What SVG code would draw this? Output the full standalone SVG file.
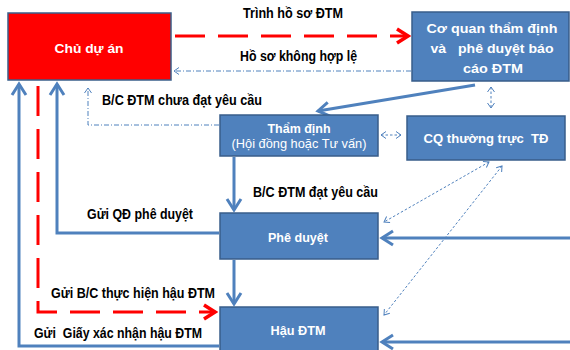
<svg xmlns="http://www.w3.org/2000/svg" width="570" height="350" viewBox="0 0 570 350">
<style>
.box{fill:#4f81bd;stroke:#385d8a;stroke-width:1.5}
.bt{font-family:"Liberation Sans",Arial,sans-serif;font-weight:bold;font-size:13.5px;fill:#fff;text-anchor:middle}
.bn{font-family:"Liberation Sans",Arial,sans-serif;font-size:13px;fill:#fff;text-anchor:middle}
.lb{font-family:"Liberation Sans",Arial,sans-serif;font-weight:bold;font-size:14px;fill:#000}
.thick{fill:none;stroke:#4f81bd;stroke-width:3}
.red{fill:none;stroke:#ff0000;stroke-width:3;stroke-dasharray:30 13}
.dd{fill:none;stroke:#4f81bd;stroke-width:1;stroke-dasharray:5 2 1 2}
.dot{fill:none;stroke:#4f81bd;stroke-width:1;stroke-dasharray:2.5 2}
</style>
<defs>
<marker id="ab" markerUnits="userSpaceOnUse" viewBox="-15 -10 18 20" markerWidth="18" markerHeight="20" refX="0" refY="0" orient="auto"><path d="M-11,-7 L0,0 L-11,7" fill="none" stroke="#4f81bd" stroke-width="3"/></marker>
<marker id="ar" markerUnits="userSpaceOnUse" viewBox="-15 -10 18 20" markerWidth="18" markerHeight="20" refX="0" refY="0" orient="auto"><path d="M-11,-7 L0,0 L-11,7" fill="none" stroke="#ff0000" stroke-width="3.5"/></marker>
<marker id="at" markerUnits="userSpaceOnUse" viewBox="-8 -5 10 10" markerWidth="10" markerHeight="10" refX="0" refY="0" orient="auto-start-reverse"><path d="M-5,-3.5 L0,0 L-5,3.5" fill="none" stroke="#4f81bd" stroke-width="1"/></marker>
</defs>
<rect width="570" height="350" fill="#fff"/>
<g id="connectors">
<path class="red" d="M175,36 L408,36" marker-end="url(#ar)"/>
<path class="dd" d="M411,71 L174,71" marker-end="url(#at)"/>
<path class="thick" d="M475,85 L318,111" marker-end="url(#ab)"/>
<path class="dot" d="M491,87 L491,108" marker-start="url(#at)" marker-end="url(#at)"/>
<path class="dot" d="M381,135 L401,135" marker-start="url(#at)" marker-end="url(#at)"/>
<path class="thick" d="M234,157 L234,210" marker-end="url(#ab)"/>
<path class="thick" d="M234,260 L234,304" marker-end="url(#ab)"/>
<path class="dot" d="M489,162 L384,222" marker-start="url(#at)" marker-end="url(#at)"/>
<path class="dot" d="M502,166 L384,315" marker-start="url(#at)" marker-end="url(#at)"/>
<path class="thick" d="M570,238 L382,238" marker-end="url(#ab)"/>
<path class="thick" d="M570,342 L382,342" marker-end="url(#ab)"/>
<path class="thick" d="M219,346 L19,346 L19,84" marker-end="url(#ab)"/>
<path class="thick" d="M219,233 L57,233 L57,84" marker-end="url(#ab)"/>
<path class="red" d="M38,86 L38,312 L215,312" marker-end="url(#ar)"/>
<path class="dd" d="M219,125 L88,125 L88,88" marker-end="url(#at)"/>
</g>
<g id="labels">
<text class="lb" x="243" y="18" textLength="100" lengthAdjust="spacingAndGlyphs">Trình hồ sơ ĐTM</text>
<text class="lb" x="240" y="61" textLength="117" lengthAdjust="spacingAndGlyphs">Hồ sơ không hợp lệ</text>
<text class="lb" x="102" y="105" textLength="160" lengthAdjust="spacingAndGlyphs">B/C ĐTM chưa đạt yêu cầu</text>
<text class="lb" x="253" y="197" textLength="125" lengthAdjust="spacingAndGlyphs">B/C ĐTM đạt yêu cầu</text>
<text class="lb" x="87" y="219" textLength="106" lengthAdjust="spacingAndGlyphs">Gửi QĐ phê duyệt</text>
<text class="lb" x="51" y="298" textLength="164" lengthAdjust="spacingAndGlyphs">Gửi B/C thực hiện hậu ĐTM</text>
<text class="lb" x="34" y="338" textLength="168" lengthAdjust="spacingAndGlyphs" xml:space="preserve">Gửi  Giấy xác nhận hậu ĐTM</text>
</g>
<g id="chu-du-an">
<rect x="8" y="13" width="163" height="67" fill="#ff0000" stroke="#3a5f8a" stroke-width="1.5"/>
<text class="bt" x="89" y="53" font-size="15" textLength="69" lengthAdjust="spacingAndGlyphs">Chủ dự án</text>
</g>
<g id="co-quan">
<rect class="box" x="412" y="12" width="157" height="69"/>
<text class="bt" x="492" y="33" font-size="15" textLength="131" lengthAdjust="spacingAndGlyphs">Cơ quan thẩm định</text>
<text class="bt" x="492" y="53" font-size="15" textLength="123" lengthAdjust="spacingAndGlyphs" xml:space="preserve">và   phê duyệt báo</text>
<text class="bt" x="493" y="73" font-size="15" textLength="60" lengthAdjust="spacingAndGlyphs">cáo ĐTM</text>
</g>
<g id="tham-dinh">
<rect class="box" x="220" y="115" width="158" height="41"/>
<text class="bt" x="299" y="133" textLength="63" lengthAdjust="spacingAndGlyphs">Thẩm định</text>
<text class="bn" x="299" y="148" textLength="135" lengthAdjust="spacingAndGlyphs">(Hội đồng hoặc Tư vấn)</text>
</g>
<g id="cq-thuong-truc">
<rect class="box" x="407" y="116" width="158" height="44"/>
<text class="bt" x="486" y="143" textLength="125" lengthAdjust="spacingAndGlyphs" xml:space="preserve">CQ thường trực  TĐ</text>
</g>
<g id="phe-duyet">
<rect class="box" x="220" y="213" width="158" height="46"/>
<text class="bt" x="298" y="242" textLength="60" lengthAdjust="spacingAndGlyphs">Phê duyệt</text>
</g>
<g id="hau-dtm">
<rect class="box" x="220" y="307" width="158" height="50"/>
<text class="bt" x="298" y="335" textLength="55" lengthAdjust="spacingAndGlyphs">Hậu ĐTM</text>
</g>
</svg>
